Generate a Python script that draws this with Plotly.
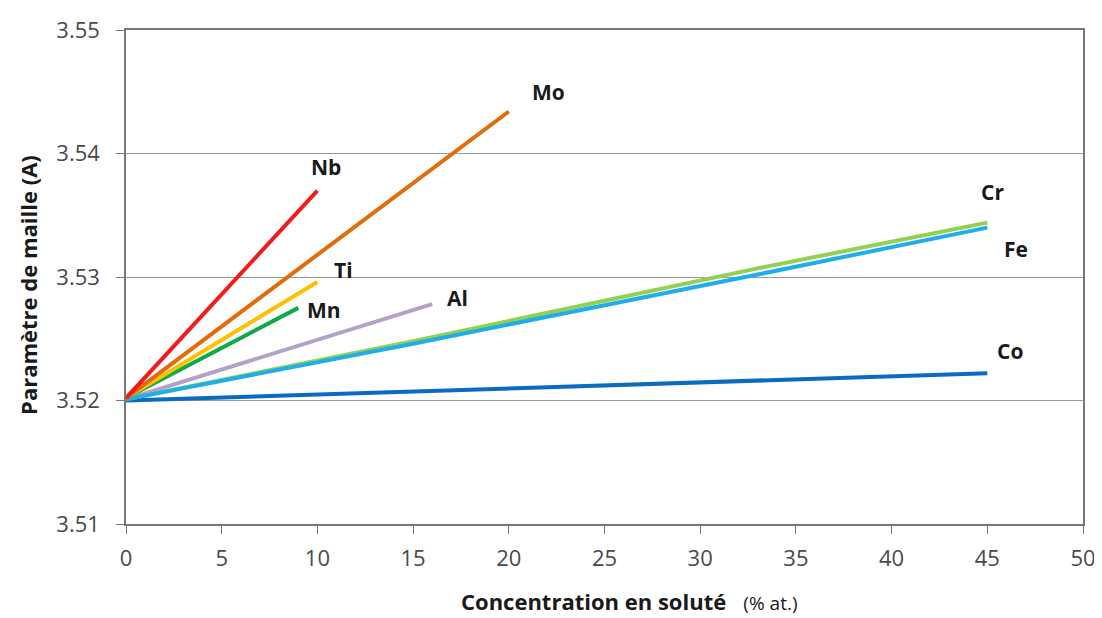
import plotly.graph_objects as go

# Data
nb_x = [0, 10]
nb_y = [3.5202, 3.5370]
mo_x = [0, 20]
mo_y = [3.5202, 3.5434]
ti_x = [0, 10]
ti_y = [3.5202, 3.5296]
mn_x = [0, 9]
mn_y = [3.5202, 3.5275]
al_x = [0, 16]
al_y = [3.5201, 3.5278]
cr_x = [0, 15, 33, 45]
cr_y = [3.5201, 3.5248, 3.5307, 3.5344]
fe_x = [0, 15, 33, 45]
fe_y = [3.5201, 3.5246, 3.5302, 3.5340]
co_x = [0, 10, 20, 30, 35, 40, 45]
co_y = [3.5200, 3.5205, 3.5210, 3.5215, 3.5217, 3.5220, 3.5222]

series = [
    ("Co", co_x, co_y, "#0A6CC0"),
    ("Al", al_x, al_y, "#B3A2C7"),
    ("Cr", cr_x, cr_y, "#92D050"),
    ("Fe", fe_x, fe_y, "#1FAEEA"),
    ("Mn", mn_x, mn_y, "#10A84A"),
    ("Ti", ti_x, ti_y, "#FFC000"),
    ("Mo", mo_x, mo_y, "#E36C0A"),
    ("Nb", nb_x, nb_y, "#F21B1B"),
]

labels = ["Nb", "Mo", "Ti", "Mn", "Al", "Cr", "Fe", "Co"]
label_x = [10.45, 22.05, 11.35, 10.35, 17.3, 45.25, 46.5, 46.2]
label_y = [3.5389, 3.5450, 3.5306, 3.5273, 3.5283, 3.5369, 3.5323, 3.5240]

x_ticks = [0, 5, 10, 15, 20, 25, 30, 35, 40, 45, 50]
y_ticks = [3.51, 3.52, 3.53, 3.54, 3.55]

FONT = "Open Sans"

fig = go.Figure()
for name, xs, ys, col in series:
    fig.add_trace(go.Scatter(x=xs, y=ys, mode="lines", name=name,
                             line=dict(color=col, width=4), showlegend=False))

for t, lx, ly in zip(labels, label_x, label_y):
    fig.add_annotation(x=lx, y=ly, text="<b>%s</b>" % t, showarrow=False,
                       font=dict(size=21, color="#1a1a1a", family=FONT),
                       xanchor="center", yanchor="middle")

fig.add_annotation(xref="paper", yref="paper", x=0.526, y=-0.156,
                   text="<b>Concentration en soluté</b>   <span style='font-size:19px'>(% at.)</span>",
                   showarrow=False, font=dict(size=22, color="#1a1a1a", family=FONT),
                   xanchor="center", yanchor="middle")
fig.add_annotation(xref="paper", yref="paper", x=-0.1024, y=0.484,
                   text="<b>Paramètre de maille (A)</b>", textangle=-90,
                   showarrow=False, font=dict(size=22, color="#1a1a1a", family=FONT),
                   xanchor="center", yanchor="middle")

fig.update_layout(
    width=1094, height=610,
    margin=dict(l=118, r=19, t=22, b=94),
    plot_bgcolor="white", paper_bgcolor="white",
    font=dict(family=FONT, color="#444444"),
)
fig.update_xaxes(range=[0, 50], tickvals=x_ticks, ticks="outside", ticklen=8,
                 tickcolor="#777777", showline=True, linecolor="#777777", linewidth=1.5,
                 mirror=True, showgrid=False, zeroline=False,
                 ticklabelstandoff=6, automargin=False, ticklabeloverflow="allow",
                 tickfont=dict(size=22, color="#4a4a4a"))
fig.update_yaxes(range=[3.51, 3.55], tickvals=y_ticks, tickformat=".2f",
                 ticks="outside", ticklen=8, tickcolor="#777777",
                 showline=True, linecolor="#777777", linewidth=1.5, mirror=True,
                 showgrid=True, gridcolor="#999999", gridwidth=1, zeroline=False,
                 ticklabelstandoff=12, automargin=False, ticklabeloverflow="allow",
                 tickfont=dict(size=22, color="#4a4a4a"))

fig.write_html("out.html")
